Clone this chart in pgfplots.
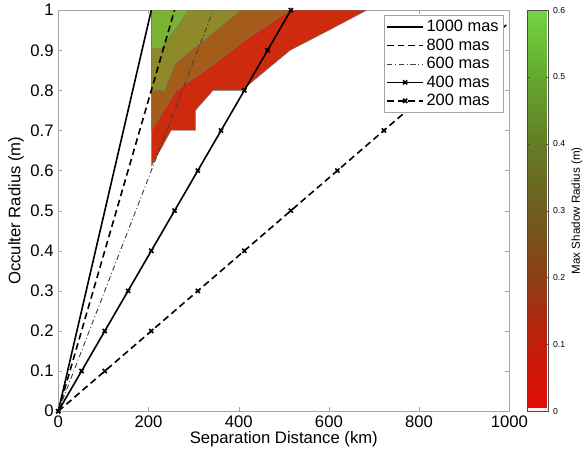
\documentclass[border=0pt]{standalone}
\usepackage{fontspec}
\setmainfont{Liberation Sans}
\usepackage{pgfplots}
\pgfplotsset{compat=1.18}

\definecolor{cgreen}{RGB}{122,178,52}
\definecolor{colive}{RGB}{142,138,42}
\definecolor{cbrown}{RGB}{163,92,26}
\definecolor{cred}{RGB}{206,42,14}

\pgfplotsset{
  colormap={shadow}{rgb255=(225,12,6) rgb255=(195,30,10) rgb255=(140,62,22)
    rgb255=(110,92,32) rgb255=(100,125,38) rgb255=(100,168,45) rgb255=(118,212,66)},
}

\begin{document}
\begin{tikzpicture}
\begin{axis}[
    name=main,
    scale only axis,
    width=338.25pt, height=300.75pt,
    xmin=0, xmax=1000, ymin=0, ymax=1,
    xtick={0,200,400,600,800,1000},
    ytick={0,0.1,0.2,0.3,0.4,0.5,0.6,0.7,0.8,0.9,1},
    font=\fontsize{12.5}{14}\selectfont,
    /pgf/number format/assume math mode=true,
    /pgf/number format/fixed,
    /pgf/number format/precision=1,
    /pgf/number format/1000 sep={},
    xlabel={Separation Distance (km)},
    ylabel={Occulter Radius (m)},
    xlabel style={yshift=4pt},
    ylabel style={yshift=-2pt},
    axis line style={gray!70},
    tick style={gray!70},
    major tick length=3pt,
    tick align=inside,
    colormap name=shadow,
    point meta min=0, point meta max=0.6,
    colorbar,
    colorbar shift/.style={},
    colorbar style={
        at={(parent axis.north east)}, anchor=north west, xshift=13.5pt,
        width=15.75pt,
        ytick={0,0.1,0.2,0.3,0.4,0.5,0.6},
        yticklabel style={font=\fontsize{6.5}{7}\selectfont},
        /pgf/number format/assume math mode=true,
        /pgf/number format/fixed,
        /pgf/number format/precision=1,
        ylabel={Max Shadow Radius (m)},
        ylabel style={font=\fontsize{8.7}{10}\selectfont, yshift=2pt},
        major tick length=2pt,
        tick style={black!70},
        axis line style={black!70},
        execute at end axis={
            \fill[red!8] (axis description cs:0,0) rectangle (axis description cs:1,0.008);
            \draw[black!70] (axis description cs:0,0) rectangle (axis description cs:1,1);
        },
    },
    legend style={
        at={(1,1)}, anchor=north east, xshift=-4pt, yshift=-3.75pt,
        draw=gray!70, fill=white, font=\fontsize{12.3}{14}\selectfont,
        row sep=-0.3pt, inner sep=1.8pt,
    },
    legend cell align=left,
    legend image code/.code={
        \draw[mark repeat=2,mark phase=2,#1] plot coordinates {(0pt,0pt) (13.5pt,0pt) (27pt,0pt)};
    },
]
% filled contour bands (max shadow radius)
\addplot[fill=cred, draw=black!55, line width=0.3pt, forget plot] coordinates {
    (207,1) (684,1) (600,0.95) (514,0.9) (425,0.817) (411,0.8) (343,0.8)
    (304,0.75) (304,0.7) (250,0.7) (207,0.612)
} -- cycle;
\addplot[fill=cbrown, draw=black!55, line width=0.3pt, forget plot] coordinates {
    (207,1) (514,1) (408,0.92) (348,0.867) (262,0.8) (207,0.7)
} -- cycle;
\addplot[fill=colive, draw=black!55, line width=0.3pt, forget plot] coordinates {
    (207,1) (405,1) (260,0.867) (236,0.8) (207,0.8)
} -- cycle;
\addplot[fill=cgreen, draw=black!55, line width=0.3pt, forget plot] coordinates {
    (207,1) (289,1) (230,0.905) (207,0.905)
} -- cycle;

% lines of constant angular size
\addplot[black, line width=1.2pt] coordinates {(0,0) (206.3,1)};
\addlegendentry{1000 mas}
\addplot[black, line width=1.2pt, dash pattern=on 5pt off 3pt] coordinates {(0,0) (257.8,1)};
\addlegendentry{800 mas}
\addplot[black!75, line width=0.7pt, dash pattern=on 4pt off 2pt on 0.7pt off 2pt] coordinates {(0,0) (343.8,1)};
\addlegendentry{600 mas}
\addplot[black, line width=1.2pt, mark=x, mark size=2.2pt] coordinates {
    (0,0) (51.57,0.1) (103.13,0.2) (154.7,0.3) (206.27,0.4) (257.83,0.5)
    (309.4,0.6) (360.97,0.7) (412.53,0.8) (464.1,0.9) (515.66,1)
};
\addlegendentry{400 mas}
\addplot[black, line width=1.2pt, dash pattern=on 5pt off 3pt, mark=x, mark size=2.2pt, mark options={solid}] coordinates {
    (0,0) (103.13,0.1) (206.27,0.2) (309.4,0.3) (412.53,0.4) (515.66,0.5)
    (618.8,0.6) (721.93,0.7) (825.06,0.8) (928.2,0.9)
};
\addlegendentry{200 mas}
\addplot[black, line width=1.2pt, dash pattern=on 5pt off 3pt, forget plot] coordinates {(928.2,0.9) (1000,0.9696)};
\end{axis}
\path ([xshift=-43.7pt,yshift=-31.1pt]main.south west) rectangle ([xshift=396.5pt,yshift=307.1pt]main.south west);
\end{tikzpicture}
\end{document}
